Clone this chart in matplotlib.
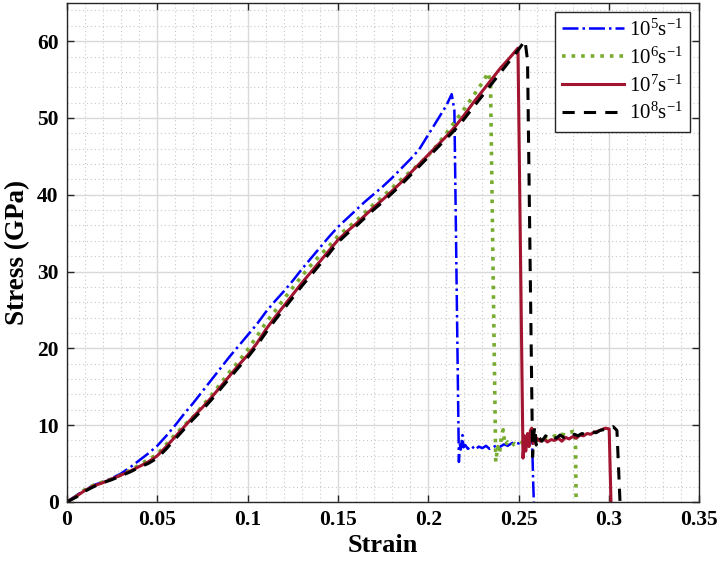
import matplotlib
matplotlib.use("Agg")
import matplotlib.pyplot as plt
from matplotlib.ticker import MultipleLocator

plt.rcParams['font.family'] = ['Liberation Serif', 'DejaVu Serif']
plt.rcParams['mathtext.fontset'] = 'custom'
plt.rcParams['mathtext.rm'] = 'Liberation Serif'
plt.rcParams['mathtext.default'] = 'regular'

labels = [r'10$^{5}$s$^{-1}$', r'10$^{6}$s$^{-1}$', r'10$^{7}$s$^{-1}$', r'10$^{8}$s$^{-1}$']

load_strain = [0.000, 0.005, 0.010, 0.015, 0.020, 0.025, 0.030, 0.035, 0.040, 0.045,
               0.050, 0.055, 0.060, 0.065, 0.070, 0.075, 0.080, 0.085, 0.090, 0.095,
               0.100, 0.105, 0.110, 0.115, 0.120, 0.125, 0.130, 0.135, 0.140, 0.145,
               0.150, 0.155, 0.160, 0.165, 0.170, 0.175, 0.180, 0.185, 0.190, 0.195,
               0.200, 0.205, 0.210, 0.215, 0.220, 0.225, 0.230, 0.235, 0.240, 0.245,
               0.250]

# 1e5 s^-1
strain_1e5 = load_strain[:43] + [0.213, 0.2145, 0.217, 0.2175, 0.218, 0.219, 0.2195, 0.2205,
                                 0.222, 0.224, 0.226, 0.228, 0.230, 0.232, 0.234, 0.236, 0.238,
                                 0.240, 0.242, 0.244, 0.246, 0.248, 0.250, 0.252, 0.254, 0.256,
                                 0.2575, 0.2582, 0.2585]
stress_1e5 = [0, 0.8, 1.6, 2.2, 2.6, 3.1, 3.7, 4.5, 5.4, 6.3,
              7.3, 8.6, 10.0, 11.5, 12.9, 14.4, 15.9, 17.4, 18.9, 20.3,
              21.7, 23.1, 24.7, 26.1, 27.4, 28.8, 30.3, 31.7, 33.1, 34.5,
              35.8, 36.9, 38.0, 39.1, 40.1, 41.1, 42.2, 43.4, 44.6, 45.9,
              47.8, 49.7, 51.6,
              53.1, 51.0, 5.2, 7.6, 6.8, 8.7, 7.1, 7.4,
              6.9, 7.3, 6.8, 7.2, 7.0, 7.3, 6.9, 7.1, 7.4,
              7.2, 7.5, 7.3, 7.6, 7.8, 7.6, 8.0, 7.9, 8.3,
              8.1, 2.0, 0.0]

# 1e6 s^-1
strain_1e6 = load_strain[:47] + [0.2332, 0.2345, 0.2374, 0.2385, 0.2395, 0.2405, 0.2415, 0.2425,
                                 0.244, 0.246, 0.248, 0.250, 0.252, 0.254, 0.256, 0.258, 0.260,
                                 0.262, 0.264, 0.266, 0.268, 0.270, 0.272, 0.274, 0.276, 0.278,
                                 0.2805, 0.2815, 0.2819]
stress_1e6 = [0, 0.7, 1.6, 2.2, 2.6, 3.0, 3.5, 4.1, 4.8, 5.5,
              6.2, 7.5, 8.8, 10.0, 11.1, 12.5, 13.9, 15.4, 16.9, 18.3,
              19.8, 21.5, 23.3, 24.8, 26.4, 27.9, 29.4, 30.8, 32.1, 33.3,
              34.6, 35.6, 36.6, 37.7, 38.8, 39.8, 40.9, 42.0, 43.0, 44.0,
              45.1, 46.5, 48.0, 49.6, 51.2, 52.9, 54.6,
              55.9, 54.5, 5.2, 7.2, 6.3, 8.4, 9.4, 7.4,
              7.8, 7.3, 7.6, 7.4, 7.8, 7.5, 7.9, 7.7, 8.0,
              8.2, 8.0, 8.4, 8.3, 8.6, 8.5, 8.8, 8.7, 9.0,
              9.2, 9.1, 0.0]

# 1e7 s^-1
strain_1e7 = load_strain[:50] + [0.2497, 0.2525, 0.2533, 0.2540, 0.2550, 0.2558, 0.2566, 0.2573,
                                 0.258, 0.260, 0.262, 0.264, 0.266, 0.268, 0.270, 0.272, 0.274,
                                 0.276, 0.278, 0.280, 0.282, 0.284, 0.286, 0.288, 0.290, 0.292,
                                 0.294, 0.296, 0.298, 0.3002, 0.3012]
stress_1e7 = [0, 0.7, 1.5, 2.1, 2.5, 3.0, 3.5, 4.0, 4.6, 5.2,
              6.0, 7.2, 8.5, 9.8, 11.1, 12.3, 13.6, 15.0, 16.4, 17.8,
              19.1, 20.6, 22.4, 24.0, 25.5, 27.0, 28.5, 29.9, 31.3, 32.7,
              34.1, 35.2, 36.2, 37.3, 38.4, 39.4, 40.5, 41.6, 42.8, 44.0,
              45.2, 46.4, 47.6, 48.9, 50.4, 52.0, 53.5, 55.0, 56.5, 57.8,
              59.1, 5.7, 8.6, 6.6, 8.9, 7.2, 9.3, 9.6,
              7.6, 8.3, 7.9, 8.2, 7.8, 8.1, 8.0, 8.3, 7.9,
              8.4, 8.2, 8.5, 8.3, 8.7, 8.6, 8.9, 8.8, 9.1,
              9.2, 9.4, 9.6, 9.5, 0.0]

# 1e8 s^-1
strain_1e8 = load_strain[:51] + [0.2536, 0.2550, 0.2578, 0.2585, 0.2590, 0.2598, 0.261, 0.263,
                                 0.265, 0.267, 0.269, 0.271, 0.273, 0.275, 0.277, 0.279, 0.281,
                                 0.283, 0.285, 0.287, 0.289, 0.291, 0.293, 0.295, 0.297, 0.299,
                                 0.301, 0.3024, 0.3045, 0.3062]
stress_1e8 = [0, 0.6, 1.4, 2.0, 2.5, 2.9, 3.4, 3.9, 4.5, 5.0,
              5.7, 6.9, 8.2, 9.5, 10.8, 12.0, 13.3, 14.7, 16.1, 17.5,
              18.8, 20.3, 22.0, 23.6, 25.1, 26.6, 28.1, 29.5, 30.9, 32.3,
              33.8, 34.9, 35.9, 37.0, 38.1, 39.1, 40.2, 41.3, 42.5, 43.7,
              44.9, 46.1, 47.3, 48.5, 49.9, 51.4, 52.9, 54.4, 55.9, 57.4,
              58.9, 60.1, 57.5, 5.9, 8.8, 9.8, 7.4, 8.5, 7.9,
              8.6, 8.2, 8.5, 8.3, 8.7, 8.4, 8.6, 8.5, 8.8,
              8.6, 8.9, 8.8, 9.0, 9.1, 9.0, 9.3, 9.4, 9.5,
              9.6, 9.8, 9.3, 0.0]

x_ticks = [0, 0.05, 0.1, 0.15, 0.2, 0.25, 0.3, 0.35]
x_ticklabels = ['0', '0.05', '0.1', '0.15', '0.2', '0.25', '0.3', '0.35']
y_ticks = [0, 10, 20, 30, 40, 50, 60]

fig = plt.figure(figsize=(7.2, 5.62), dpi=100)
ax = fig.add_axes([0.093, 0.107, 0.878, 0.888])

ax.plot(strain_1e5, stress_1e5, color='#0000FF', linestyle='-.', lw=1.8, label=labels[0])
ax.plot(strain_1e6, stress_1e6, color='#77AC30', linestyle=':', lw=2.6, label=labels[1])
ax.plot(strain_1e7, stress_1e7, color='#A2142F', linestyle='-', lw=2.2, label=labels[2])
ax.plot(strain_1e8, stress_1e8, color='black', linestyle='--', lw=2.2, label=labels[3],
        dashes=(4, 3))

ax.set_xlim(0, 0.35)
ax.set_ylim(0, 65)
ax.set_xticks(x_ticks)
ax.set_xticklabels(x_ticklabels)
ax.set_yticks(y_ticks)
ax.xaxis.set_minor_locator(MultipleLocator(0.01))
ax.yaxis.set_minor_locator(MultipleLocator(2))

ax.grid(True, which='major', color='#d9d9d9', lw=1.0, ls='-')
ax.grid(True, which='minor', color='#c8c8c8', lw=0.8, ls=(0, (1, 2.5)))
ax.set_axisbelow(True)

ax.tick_params(which='major', direction='in', length=5, width=1, top=True, right=True,
               labelsize=15.5, colors='#262626', pad=6)
ax.tick_params(which='minor', length=0, top=True, right=True)
for lbl in ax.get_xticklabels() + ax.get_yticklabels():
    lbl.set_fontweight('bold')
    lbl.set_color('black')
for s in ax.spines.values():
    s.set_color('#262626')
    s.set_linewidth(1.0)

ax.set_xlabel('Strain', fontsize=19, fontweight='bold', labelpad=3)
ax.set_ylabel('Stress (GPa)', fontsize=19.5, fontweight='bold', labelpad=5)

leg = ax.legend(loc='upper right', fontsize=15, handlelength=3.0, frameon=True,
                fancybox=False, edgecolor='#262626', framealpha=1,
                borderaxespad=0.45, labelspacing=0.32, handletextpad=0.2,
                borderpad=0.35)
leg.get_frame().set_linewidth(1.0)

fig.savefig('out.png', dpi=100)
